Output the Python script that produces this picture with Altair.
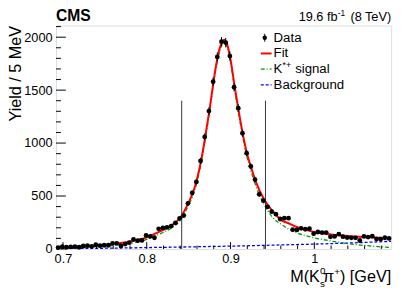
import altair as alt
import pandas as pd

FONT = "Liberation Sans"

# ---- data: 5 MeV bins starting at 0.6917 GeV ----
bin_lo = 0.6917
bin_w = 0.005
yields = [13, 22, 16, 19, 22, 16, 28, 31, 25, 40,
          31, 35, 35, 53, 53, 28, 46, 59, 90, 78,
          81, 128, 118, 106, 190, 199, 204, 216, 246, 288,
          315, 431, 529, 633, 831, 1058, 1302, 1579, 1814, 1958,
          1948, 1822, 1527, 1330, 1093, 905, 780, 655, 516, 456,
          398, 352, 329, 283, 291, 291, 182, 180, 195, 186,
          192, 144, 160, 155, 155, 115, 118, 140, 116, 108,
          105, 105, 80, 118, 112, 120, 93, 93, 106, 100]
errors = [4, 5, 4, 4, 5, 4, 5, 6, 5, 6,
          6, 6, 6, 7, 7, 5, 7, 8, 9, 9,
          9, 11, 11, 10, 14, 14, 14, 15, 16, 17,
          18, 21, 23, 25, 29, 33, 36, 40, 43, 44,
          44, 43, 39, 36, 33, 30, 28, 26, 23, 21,
          20, 19, 18, 17, 17, 17, 13, 13, 14, 14,
          14, 12, 13, 12, 12, 11, 11, 12, 11, 10,
          10, 10, 9, 11, 11, 11, 10, 10, 10, 10]

# ---- fit curves ----
fit_m = [0.6917, 0.70, 0.72, 0.74, 0.76, 0.78, 0.79, 0.80, 0.81, 0.82, 0.83, 0.84,
         0.85, 0.855, 0.86, 0.865, 0.87, 0.875, 0.88, 0.885, 0.89, 0.8925, 0.895,
         0.90, 0.905, 0.91, 0.915, 0.92, 0.925, 0.93, 0.935, 0.94, 0.945, 0.95,
         0.96, 0.97, 0.98, 0.99, 1.00, 1.02, 1.04, 1.06, 1.08, 1.0917]
fit_v = [12, 14, 22, 32, 48, 70, 88, 110, 145, 180, 225, 295,
         440, 530, 660, 840, 1070, 1320, 1600, 1830, 1955, 1975, 1955,
         1790, 1530, 1290, 1070, 890, 760, 640, 545, 470, 410, 360,
         275, 240, 205, 180, 160, 138, 122, 112, 105, 102]
sig_m = fit_m
sig_v = [5, 6, 12, 20, 32, 52, 68, 90, 122, 158, 200, 270,
         415, 505, 635, 815, 1045, 1295, 1575, 1805, 1930, 1950, 1930,
         1765, 1500, 1260, 1040, 855, 720, 600, 500, 420, 355, 300,
         235, 185, 150, 125, 105, 75, 50, 33, 20, 15]
bkg_m = [0.6917, 0.72, 0.76, 0.80, 0.84, 0.88, 0.92, 0.96, 1.00, 1.04, 1.0917]
bkg_v = [1, 4, 8, 13, 18, 24, 30, 38, 46, 56, 72]

window_lines = [0.8417, 0.9417]
window_top = 1400

x_major = [0.7, 0.8, 0.9, 1.0]
x_minor = [0.72, 0.74, 0.76, 0.78, 0.82, 0.84, 0.86, 0.88,
           0.92, 0.94, 0.96, 0.98, 1.02, 1.04, 1.06, 1.08]
y_major = [0, 500, 1000, 1500, 2000]
y_minor = [100, 200, 300, 400, 600, 700, 800, 900, 1100, 1200, 1300, 1400,
           1600, 1700, 1800, 1900, 2100]

W, H = 342, 228

pts = pd.DataFrame({
    "m": [bin_lo + (k + 0.5) * bin_w for k in range(len(yields))],
    "y": yields,
    "lo": [v - e for v, e in zip(yields, errors)],
    "hi": [v + e for v, e in zip(yields, errors)],
})
fit = pd.DataFrame({"m": fit_m, "v": fit_v})
sig = pd.DataFrame({"m": sig_m, "v": sig_v})
bkg = pd.DataFrame({"m": bkg_m, "v": bkg_v})
win = pd.DataFrame({"m": window_lines, "top": [window_top] * 2, "bot": [0, 0]})

xs = alt.Scale(domain=[0.6917, 1.0917], nice=False, zero=False)
ys = alt.Scale(domain=[0, 2110], nice=False)

XA = alt.Axis(values=x_major, format="~g", ticks=False, domain=False, grid=False,
              labelFont=FONT, labelFontSize=13, labelColor="black", labelPadding=4,
              title=None, labelFlush=False, labelOverlap=False)
YA = alt.Axis(values=y_major, format="d", ticks=False, domain=False, grid=False,
              labelFont=FONT, labelFontSize=13, labelColor="black", labelPadding=4,
              labelOverlap=False, labelFlush=False,
              title="Yield / 5 MeV", titleFont=FONT, titleFontSize=16.5,
              titleFontWeight="normal", titleColor="black", titleAnchor="end",
              titleAngle=270, titleAlign="right", titleBaseline="alphabetic",
              titleX=-36.5, titleY=0)

X = lambda f: alt.X(f, type="quantitative", scale=xs, axis=XA)
Y = lambda f: alt.Y(f, type="quantitative", scale=ys, axis=YA)

dummy = pd.DataFrame({"a": [0]})

def txt(s, x, y, size=13, align="left", baseline="alphabetic", bold=False, color="black"):
    kw = dict(font=FONT, fontSize=size, align=align, baseline=baseline, color=color)
    if bold:
        kw["fontWeight"] = "bold"
    return alt.Chart(dummy).mark_text(**kw).encode(
        x=alt.value(x), y=alt.value(y), text=alt.value(s))

def seg(x1, x2, y1, y2, color, width, dash=None):
    kw = dict(color=color, strokeWidth=width)
    if dash:
        kw["strokeDash"] = dash
    return alt.Chart(dummy).mark_rule(**kw).encode(
        x=alt.value(x1), x2=alt.value(x2), y=alt.value(y1), y2=alt.value(y2))

# ticks (inside)
xmaj = alt.Chart(pd.DataFrame({"m": x_major})).mark_rule(color="black", strokeWidth=1).encode(
    x=X("m"), y=alt.value(H), y2=alt.value(H - 7))
xmin = alt.Chart(pd.DataFrame({"m": x_minor})).mark_rule(color="black", strokeWidth=1).encode(
    x=X("m"), y=alt.value(H), y2=alt.value(H - 3.5))
ymaj = alt.Chart(pd.DataFrame({"v": y_major})).mark_rule(color="black", strokeWidth=1).encode(
    y=Y("v"), x=alt.value(0), x2=alt.value(10))
ymin = alt.Chart(pd.DataFrame({"v": y_minor})).mark_rule(color="black", strokeWidth=1).encode(
    y=Y("v"), x=alt.value(0), x2=alt.value(5))

wl = alt.Chart(win).mark_rule(color="#333333", strokeWidth=1).encode(
    x=X("m"), y=Y("top"), y2=alt.Y2("bot"))

bkg_l = alt.Chart(bkg).mark_line(color="#0000ff", strokeWidth=1.3, strokeDash=[3, 2],
                                 interpolate="monotone", clip=True).encode(x=X("m"), y=Y("v"))
sig_l = alt.Chart(sig).mark_line(color="#009900", strokeWidth=1.3, strokeDash=[4, 2, 1, 2],
                                 interpolate="monotone", clip=True).encode(x=X("m"), y=Y("v"))
fit_l = alt.Chart(fit).mark_line(color="#ff0000", strokeWidth=2,
                                 interpolate="monotone", clip=True).encode(x=X("m"), y=Y("v"))

err = alt.Chart(pts).mark_rule(color="black", strokeWidth=1).encode(
    x=X("m"), y=Y("lo"), y2=alt.Y2("hi"))
dots = alt.Chart(pts).mark_circle(color="black", opacity=1, size=24).encode(
    x=X("m"), y=Y("y"))

# legend
LX1, LX2, LT = 209, 220, 222
r = [12.5, 28.5, 44.5, 60.5]
legend = [
    seg(213, 213, r[0] - 4, r[0] + 4, "black", 1),
    alt.Chart(dummy).mark_circle(color="black", opacity=1, size=20).encode(
        x=alt.value(213), y=alt.value(r[0])),
    txt("Data", LT, r[0], size=13.5, baseline="middle"),
    seg(LX1, LX2, r[1], r[1], "#ff0000", 2),
    txt("Fit", LT, r[1], size=13.5, baseline="middle"),
    seg(LX1, LX2, r[2], r[2], "#009900", 1.3, [4, 2, 1, 2]),
    txt("K", LT, r[2], size=13.5, baseline="middle"),
    txt("*+", LT + 9.2, r[2] - 4, size=9, baseline="middle"),
    txt("signal", LT + 22, r[2], size=13.5, baseline="middle"),
    seg(LX1, LX2, r[3], r[3], "#0000ff", 1.3, [3, 2]),
    txt("Background", LT, r[3], size=13.5, baseline="middle"),
]

# titles
TB = 262
titles = [
    txt(") [GeV]", W, TB, size=16.5, align="right"),
    txt("+", 289.7, TB - 7, size=10, align="right"),
    txt("\u03c0", 283.9, TB, size=16.5, align="right"),
    txt("0", 269.4, TB - 8, size=10, align="left"),
    txt("s", 269.4, TB + 5, size=10, align="left"),
    txt("M(K", 269.2, TB, size=16.5, align="right"),
    txt("CMS", 0, -4.7, size=16, bold=True),
    txt(" (8 TeV)", W, -4.7, size=13, align="right"),
    txt("-1", 295, -9.5, size=8.5, align="right"),
    txt("19.6 fb", 287.3, -4.7, size=13, align="right"),
]

chart = alt.layer(
    bkg_l, sig_l, fit_l, wl, xmaj, xmin, ymaj, ymin, err, dots,
    *legend, *titles
).properties(
    width=W, height=H,
    padding={"left": 49, "top": 15, "right": 8, "bottom": 40},
    autosize=alt.AutoSizeParams(type="none"),
).configure_view(stroke="black", strokeWidth=1).configure(background="white")

chart.save("out.html", embed_options={"renderer": "svg", "actions": False})
